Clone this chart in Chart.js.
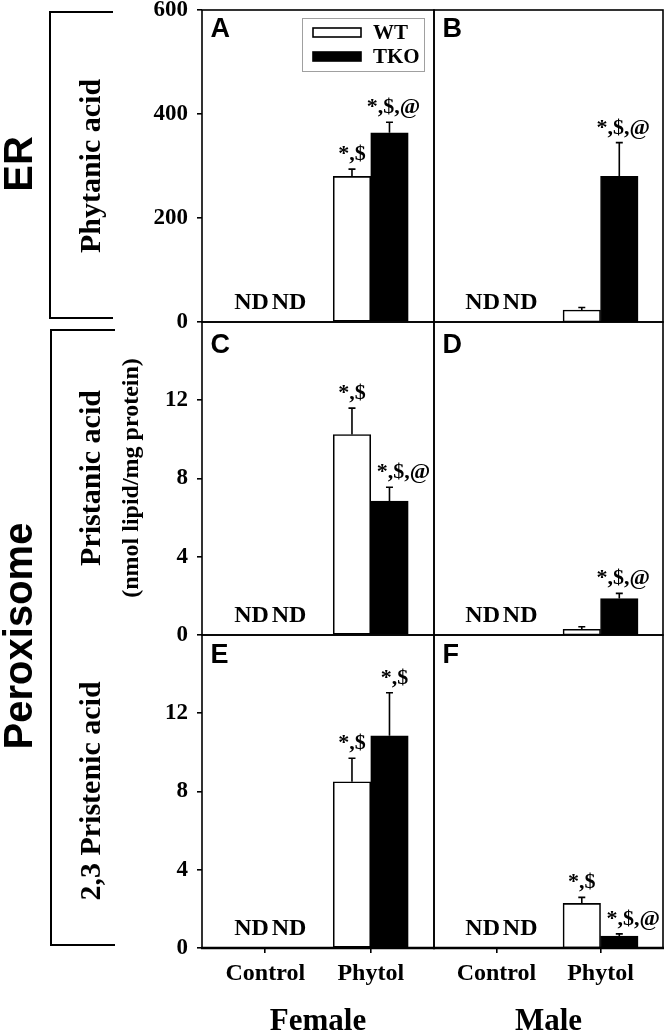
<!DOCTYPE html>
<html>
<head>
<meta charset="utf-8">
<script src="https://cdn.jsdelivr.net/npm/chart.js@4.4.1/dist/chart.umd.min.js"></script>
<style>
  html, body { margin: 0; padding: 0; background: #fff; }
  #wrap { position: relative; width: 667px; height: 1034px; overflow: hidden; background: #fff; }
  #wrap canvas { position: absolute; left: 0; top: 0; }
</style>
</head>
<body>
<div id="wrap">
  <canvas id="cA" width="667" height="1034"></canvas>
  <canvas id="cB" width="667" height="1034"></canvas>
  <canvas id="cC" width="667" height="1034"></canvas>
  <canvas id="cD" width="667" height="1034"></canvas>
  <canvas id="cE" width="667" height="1034"></canvas>
  <canvas id="cF" width="667" height="1034"></canvas>
</div>
<script>
// ---------------- DATA ----------------
const categories = ['Control', 'Phytol'];
const seriesNames = ['WT', 'TKO'];
const sexes = ['Female', 'Male'];

const phytanicTicks = [0, 200, 400, 600];
const phytanicMax = 600;
const pristTicks = [0, 4, 8, 12];
const pristMax = 16;

// Phytanic acid (ER)
const phytanicFemaleWT     = [null, 280];
const phytanicFemaleWTErr  = [null, 14];
const phytanicFemaleTKO    = [null, 364];
const phytanicFemaleTKOErr = [null, 20];
const phytanicMaleWT       = [null, 23];
const phytanicMaleWTErr    = [null, 5];
const phytanicMaleTKO      = [null, 280];
const phytanicMaleTKOErr   = [null, 65];

// Pristanic acid (peroxisome)
const pristanicFemaleWT     = [null, 10.25];
const pristanicFemaleWTErr  = [null, 1.35];
const pristanicFemaleTKO    = [null, 6.85];
const pristanicFemaleTKOErr = [null, 0.7];
const pristanicMaleWT       = [null, 0.29];
const pristanicMaleWTErr    = [null, 0.13];
const pristanicMaleTKO      = [null, 1.86];
const pristanicMaleTKOErr   = [null, 0.27];

// 2,3 Pristenic acid (peroxisome)
const pristenicFemaleWT     = [null, 8.5];
const pristenicFemaleWTErr  = [null, 1.2];
const pristenicFemaleTKO    = [null, 10.85];
const pristenicFemaleTKOErr = [null, 2.2];
const pristenicMaleWT       = [null, 2.28];
const pristenicMaleWTErr    = [null, 0.31];
const pristenicMaleTKO      = [null, 0.61];
const pristenicMaleTKOErr   = [null, 0.11];

// significance labels
const sigPhytanicFemaleWT   = [null, '*,$'];
const sigPhytanicFemaleTKO  = [null, '*,$,@'];
const sigPhytanicMaleWT     = [null, null];
const sigPhytanicMaleTKO    = [null, '*,$,@'];
const sigPristanicFemaleWT  = [null, '*,$'];
const sigPristanicFemaleTKO = [null, '*,$,@'];
const sigPristanicMaleWT    = [null, null];
const sigPristanicMaleTKO   = [null, '*,$,@'];
const sigPristenicFemaleWT  = [null, '*,$'];
const sigPristenicFemaleTKO = [null, '*,$'];
const sigPristenicMaleWT    = [null, '*,$'];
const sigPristenicMaleTKO   = [null, '*,$,@'];

// ---------------- STYLE / LAYOUT ----------------
const SERIF = '"Liberation Serif", "Times New Roman", Times, serif';
const SANS = '"Liberation Sans", Arial, Helvetica, sans-serif';
const W = 667, H = 1034;
const colX = [[202, 434], [434, 663]];
const rowY = [[10, 322], [322, 635], [635, 948]];
const BAR_W = 37.5;

function pts(vals, errs, sigs) {
  return vals.map((v, i) => ({ x: i, y: v, err: errs[i], sig: sigs[i] }));
}

const panels = [
  { id: 'cA', letter: 'A', row: 0, col: 0, max: phytanicMax, ticks: phytanicTicks,
    wt: pts(phytanicFemaleWT, phytanicFemaleWTErr, sigPhytanicFemaleWT),
    tko: pts(phytanicFemaleTKO, phytanicFemaleTKOErr, sigPhytanicFemaleTKO),
    sigShift: [0, 4], legend: true },
  { id: 'cB', letter: 'B', row: 0, col: 1, max: phytanicMax, ticks: phytanicTicks,
    wt: pts(phytanicMaleWT, phytanicMaleWTErr, sigPhytanicMaleWT),
    tko: pts(phytanicMaleTKO, phytanicMaleTKOErr, sigPhytanicMaleTKO),
    sigShift: [0, 4] },
  { id: 'cC', letter: 'C', row: 1, col: 0, max: pristMax, ticks: pristTicks,
    wt: pts(pristanicFemaleWT, pristanicFemaleWTErr, sigPristanicFemaleWT),
    tko: pts(pristanicFemaleTKO, pristanicFemaleTKOErr, sigPristanicFemaleTKO),
    sigShift: [0, 14] },
  { id: 'cD', letter: 'D', row: 1, col: 1, max: pristMax, ticks: pristTicks,
    wt: pts(pristanicMaleWT, pristanicMaleWTErr, sigPristanicMaleWT),
    tko: pts(pristanicMaleTKO, pristanicMaleTKOErr, sigPristanicMaleTKO),
    sigShift: [0, 4] },
  { id: 'cE', letter: 'E', row: 2, col: 0, max: pristMax, ticks: pristTicks,
    wt: pts(pristenicFemaleWT, pristenicFemaleWTErr, sigPristenicFemaleWT),
    tko: pts(pristenicFemaleTKO, pristenicFemaleTKOErr, sigPristenicFemaleTKO),
    sigShift: [0, 5] },
  { id: 'cF', letter: 'F', row: 2, col: 1, max: pristMax, ticks: pristTicks,
    wt: pts(pristenicMaleWT, pristenicMaleWTErr, sigPristenicMaleWT),
    tko: pts(pristenicMaleTKO, pristenicMaleTKOErr, sigPristenicMaleTKO),
    sigShift: [0, 14] }
];
const letterBase = [27, 31, 28];

// ---------------- PLUGINS ----------------
const panelPlugin = {
  id: 'panelDecor',
  afterDatasetsDraw(chart, args, opts) {
    const ctx = chart.ctx;
    const xs = chart.scales.x, ys = chart.scales.y;
    const zero = ys.getPixelForValue(0);
    ctx.save();
    chart.data.datasets.forEach((ds, di) => {
      const meta = chart.getDatasetMeta(di);
      ds.data.forEach((pt, i) => {
        const slot = xs.getPixelForValue(pt.x) + (di - 0.5) * BAR_W;
        if (pt.y === null || pt.y === undefined) {
          ctx.font = 'bold 24px ' + SERIF;
          ctx.fillStyle = '#000';
          ctx.textAlign = 'center';
          ctx.textBaseline = 'alphabetic';
          ctx.fillText('ND', slot + 5, zero - 13);
          return;
        }
        const bar = meta.data[i];
        const top = ys.getPixelForValue(pt.y + (pt.err || 0));
        ctx.strokeStyle = '#000';
        ctx.lineWidth = 1.6;
        ctx.beginPath();
        ctx.moveTo(bar.x, bar.y);
        ctx.lineTo(bar.x, top);
        ctx.moveTo(bar.x - 3.5, top);
        ctx.lineTo(bar.x + 3.5, top);
        ctx.stroke();
        if (pt.sig) {
          ctx.font = 'bold 22px ' + SERIF;
          ctx.fillStyle = '#000';
          ctx.textAlign = 'center';
          ctx.textBaseline = 'alphabetic';
          ctx.fillText(pt.sig, bar.x + opts.sigShift[di], top - 9);
        }
      });
    });
    ctx.restore();
  },
  afterDraw(chart, args, opts) {
    const ctx = chart.ctx;
    const ca = chart.chartArea;
    ctx.save();
    // frame
    ctx.strokeStyle = '#000';
    ctx.lineWidth = 1.6;
    ctx.strokeRect(ca.left, ca.top, ca.right - ca.left, ca.bottom - ca.top);
    if (opts.thickBottom) {
      ctx.lineWidth = 2.6;
      ctx.beginPath();
      ctx.moveTo(ca.left - 1, ca.bottom);
      ctx.lineTo(ca.right + 1, ca.bottom);
      ctx.stroke();
    }
    // panel letter
    ctx.font = 'bold 27px ' + SANS;
    ctx.fillStyle = '#000';
    ctx.textAlign = 'left';
    ctx.textBaseline = 'alphabetic';
    ctx.fillText(opts.letter, ca.left + 8.5, ca.top + opts.letterBase);
    // legend
    if (opts.legend) {
      const lx = ca.left + 100, ly = ca.top + 8;
      ctx.strokeStyle = '#a0a0a0';
      ctx.lineWidth = 1;
      ctx.strokeRect(lx + 0.5, ly + 0.5, 122, 53);
      chart.data.datasets.forEach((ds, di) => {
        const sy = ly + (di === 0 ? 14.5 : 38.5);
        ctx.fillStyle = ds.backgroundColor;
        ctx.fillRect(lx + 11, sy - 4.5, 48, 9);
        ctx.strokeStyle = '#000';
        ctx.lineWidth = 1.6;
        ctx.strokeRect(lx + 11, sy - 4.5, 48, 9);
        ctx.fillStyle = '#000';
        ctx.font = 'bold 21px ' + SERIF;
        ctx.textAlign = 'left';
        ctx.textBaseline = 'middle';
        ctx.fillText(ds.label, lx + 71, sy + 1);
      });
    }
    ctx.restore();
  }
};

function vText(ctx, text, x, y, font) {
  ctx.save();
  ctx.translate(x, y);
  ctx.rotate(-Math.PI / 2);
  ctx.font = font;
  ctx.fillStyle = '#000';
  ctx.textAlign = 'center';
  ctx.textBaseline = 'alphabetic';
  ctx.fillText(text, 0, 0);
  ctx.restore();
}

const sidePlugin = {
  id: 'sideLabels',
  afterDraw(chart) {
    const ctx = chart.ctx;
    ctx.save();
    vText(ctx, 'ER', 32, 164, 'bold 40px ' + SANS);
    vText(ctx, 'Peroxisome', 32, 636, 'bold 40px ' + SANS);
    vText(ctx, 'Phytanic acid', 100, 166, 'bold 30px ' + SERIF);
    vText(ctx, 'Pristanic acid', 100, 478, 'bold 30px ' + SERIF);
    vText(ctx, '(nmol lipid/mg protein)', 138, 478, 'bold 24px ' + SERIF);
    vText(ctx, '2,3 Pristenic acid', 100, 791, 'bold 30px ' + SERIF);
    // brackets
    ctx.strokeStyle = '#000';
    ctx.lineWidth = 2;
    ctx.beginPath();
    ctx.moveTo(113, 12); ctx.lineTo(50, 12); ctx.lineTo(50, 318); ctx.lineTo(113, 318);
    ctx.moveTo(115, 330); ctx.lineTo(51, 330); ctx.lineTo(51, 945); ctx.lineTo(115, 945);
    ctx.stroke();
    ctx.restore();
  }
};

// ---------------- CHARTS ----------------
const yTickFont = { family: SERIF, size: 23, weight: 'bold' };
const xTickFont = { family: SERIF, size: 24, weight: 'bold' };

panels.forEach(p => {
  const [x0, x1] = colX[p.col];
  const [y0, y1] = rowY[p.row];
  const isLeft = p.col === 0;
  const isBottom = p.row === 2;
  const xAxisH = 86;
  const padding = {
    left: isLeft ? 0 : x0,
    right: W - x1,
    top: y0,
    bottom: isBottom ? (H - y1 - xAxisH) : (H - y1)
  };
  const plugins = [panelPlugin];
  if (p.id === 'cA') plugins.push(sidePlugin);

  new Chart(document.getElementById(p.id), {
    type: 'bar',
    data: {
      datasets: [
        { label: seriesNames[0], data: p.wt, backgroundColor: '#ffffff', borderColor: '#000000',
          borderWidth: 1.6, borderSkipped: false },
        { label: seriesNames[1], data: p.tko, backgroundColor: '#000000', borderColor: '#000000',
          borderWidth: 1, borderSkipped: false }
      ]
    },
    options: {
      responsive: false,
      animation: false,
      devicePixelRatio: 1,
      events: [],
      layout: { padding },
      barThickness: BAR_W,
      grouped: true,
      plugins: {
        legend: { display: false },
        tooltip: { enabled: false },
        panelDecor: { letter: p.letter, letterBase: letterBase[p.row], legend: !!p.legend,
                      sigShift: p.sigShift, thickBottom: isBottom }
      },
      scales: {
        x: {
          type: 'linear', min: -0.6, max: 1.6, offset: false,
          display: isBottom,
          afterBuildTicks: s => { s.ticks = categories.map((c, i) => ({ value: i })); },
          afterFit: s => {
            s.height = isBottom ? xAxisH : 0; s.paddingLeft = 0; s.paddingRight = 0;
          },
          ticks: { callback: v => categories[v], font: xTickFont, color: '#000', padding: 6,
                   autoSkip: false, maxRotation: 0, minRotation: 0 },
          grid: { offset: false, drawOnChartArea: false, drawTicks: true, tickLength: 5,
                  color: '#000', lineWidth: 1.6 },
          border: { display: false },
          title: { display: true, text: sexes[p.col], color: '#000', padding: 0,
                   font: { family: SERIF, size: 31, weight: 'bold', lineHeight: 0.8 } }
        },
        y: {
          type: 'linear', min: 0, max: p.max,
          display: isLeft,
          afterBuildTicks: s => { s.ticks = p.ticks.map(v => ({ value: v })); },
          afterFit: s => {
            s.width = isLeft ? 202 : 0; s.paddingTop = 0; s.paddingBottom = 0;
          },
          ticks: { font: yTickFont, color: '#000', padding: 9 },
          grid: { drawOnChartArea: false, drawTicks: true, tickLength: 5, color: '#000', lineWidth: 1.6 },
          border: { display: false }
        }
      }
    },
    plugins
  });
});
</script>
</body>
</html>
